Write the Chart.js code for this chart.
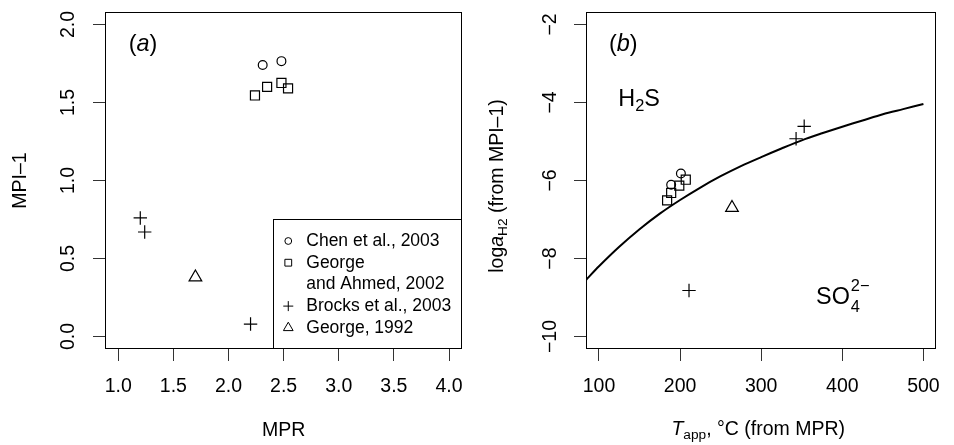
<!DOCTYPE html>
<html lang="en">
<head>
  <meta charset="UTF-8" />
  <title>MPI-1 vs MPR / log aH2 vs Tapp</title>
  <script src="https://cdn.jsdelivr.net/npm/chart.js"></script>
  <style>
    body {
      margin: 0;
      background: #fff;
    }
    .panels {
      display: flex;
      width: 954px;
      height: 445px;
    }
    canvas {
      display: block;
    }
  </style>
</head>
<body>
  <div class="panels">
    <canvas id="panelA" width="477" height="445"></canvas>
    <canvas id="panelB" width="477" height="445"></canvas>
  </div>

  <script>
    // ---- panel (a): MPI-1 against MPR ----
    const chenMPR = [2.31, 2.48];
    const chenMPI = [1.74, 1.765];
    const georgeAhmedMPR = [2.24, 2.35, 2.48, 2.54];
    const georgeAhmedMPI = [1.545, 1.60, 1.625, 1.59];
    const brocksMPR = [1.20, 1.24, 2.20];
    const brocksMPI = [0.76, 0.67, 0.08];
    const george92MPR = [1.70];
    const george92MPI = [0.38];

    const xTicksA = [1.0, 1.5, 2.0, 2.5, 3.0, 3.5, 4.0];
    const xTickLabelsA = ['1.0', '1.5', '2.0', '2.5', '3.0', '3.5', '4.0'];
    const yTicksA = [0, 0.5, 1.0, 1.5, 2.0];
    const yTickLabelsA = ['0.0', '0.5', '1.0', '1.5', '2.0'];

    // ---- panel (b): log aH2 against apparent temperature ----
    const chenT = [189, 201];
    const chenLogH2 = [-6.11, -5.82];
    const georgeAhmedT = [184, 189, 199, 207];
    const georgeAhmedLogH2 = [-6.51, -6.32, -6.13, -5.98];
    const brocksT = [343, 353, 211];
    const brocksLogH2 = [-4.93, -4.61, -8.82];
    const george92T = [264];
    const george92LogH2 = [-6.70];

    // H2S / SO4 boundary line
    const boundaryT = [84, 100, 125, 150, 175, 200, 225, 250, 275, 300, 325, 350, 375, 400, 425, 450, 475, 500];
    const boundaryLogH2 = [-8.55, -8.20, -7.70, -7.25, -6.85, -6.50, -6.18, -5.89, -5.63, -5.40, -5.18, -4.97, -4.79, -4.62, -4.46, -4.30, -4.17, -4.04];

    const xTicksB = [100, 200, 300, 400, 500];
    const xTickLabelsB = ['100', '200', '300', '400', '500'];
    const yTicksB = [-10, -8, -6, -4, -2];
    const yTickLabelsB = ['\u221210', '\u22128', '\u22126', '\u22124', '\u22122'];

    const legendLabels = [
      ['Chen et al., 2003'],
      ['George', 'and Ahmed, 2002'],
      ['Brocks et al., 2003'],
      ['George, 1992']
    ];
    const legendStyles = ['circle', 'rect', 'cross', 'triangle'];

    const FAMILY = '"Liberation Sans", Arial, Helvetica, sans-serif';
    const AXIS_SIZE = 19.5;

    function pts(xs, ys) {
      return xs.map((x, i) => ({ x: x, y: ys[i] }));
    }

    function markers(label, xs, ys, style, radius) {
      return {
        label: label,
        data: pts(xs, ys),
        pointStyle: style,
        pointRadius: radius,
        pointBorderColor: '#000',
        pointBackgroundColor: 'rgba(0,0,0,0)',
        pointBorderWidth: 1.2,
        showLine: false
      };
    }

    function fontStr(size, italic) {
      return (italic ? 'italic ' : '') + size + 'px ' + FAMILY;
    }

    // draws runs of text (normal / italic / sub) centred on cx, cy
    function drawRuns(ctx, runs, cx, cy, angle) {
      ctx.save();
      ctx.translate(cx, cy);
      if (angle) ctx.rotate(angle);
      ctx.fillStyle = '#000';
      ctx.textBaseline = 'middle';
      ctx.textAlign = 'left';
      let total = 0;
      runs.forEach(r => {
        ctx.font = fontStr(r.size, r.italic);
        r.w = ctx.measureText(r.text).width;
        total += r.w;
      });
      let x = -total / 2;
      runs.forEach(r => {
        ctx.font = fontStr(r.size, r.italic);
        ctx.fillText(r.text, x, r.dy || 0);
        x += r.w;
      });
      ctx.restore();
    }

    // R style: y tick labels turned to read upwards
    function yTickLabels(ctx, scale, ticks, labels, x) {
      ticks.forEach((v, i) => {
        drawRuns(ctx, [{ text: labels[i], size: AXIS_SIZE }], x, scale.getPixelForValue(v), -Math.PI / 2);
      });
    }

    function xAxis(min, max, ticks, labels, title) {
      return {
        type: 'linear',
        position: 'bottom',
        min: min,
        max: max,
        afterBuildTicks: s => { s.ticks = ticks.map(v => ({ value: v })); },
        afterFit: s => { s.height = 96; },
        ticks: {
          callback: (v, i) => labels[i],
          color: '#000',
          font: { family: FAMILY, size: AXIS_SIZE },
          padding: 14,
          autoSkip: false,
          maxRotation: 0
        },
        grid: { drawOnChartArea: false, drawTicks: true, tickLength: 12, color: '#333', lineWidth: 1 },
        border: { display: false },
        title: {
          display: !!title,
          text: title,
          color: '#000',
          font: { family: FAMILY, size: AXIS_SIZE },
          padding: { top: 0, bottom: 2.3 }
        }
      };
    }

    function yAxis(min, max, ticks, title, width) {
      return {
        type: 'linear',
        position: 'left',
        min: min,
        max: max,
        afterBuildTicks: s => { s.ticks = ticks.map(v => ({ value: v })); },
        afterFit: s => { s.width = width; },
        ticks: { display: false },
        grid: { drawOnChartArea: false, drawTicks: true, tickLength: 12, color: '#333', lineWidth: 1 },
        border: { display: false },
        title: {
          display: !!title,
          text: title,
          color: '#000',
          font: { family: FAMILY, size: AXIS_SIZE },
          padding: { top: 8.8, bottom: 0 }
        }
      };
    }

    function frame(ctx, a) {
      ctx.save();
      ctx.strokeStyle = '#000';
      ctx.lineWidth = 1;
      ctx.strokeRect(Math.round(a.left) + 0.5, Math.round(a.top) + 0.5,
        Math.round(a.right - a.left) - 1, Math.round(a.bottom - a.top) - 1);
      ctx.restore();
    }

    const baseOptions = {
      responsive: false,
      devicePixelRatio: 1,
      animation: false,
      events: [],
      plugins: { legend: { display: false }, tooltip: { enabled: false } }
    };

    // ---------- panel (a) ----------
    const panelAPlugin = {
      id: 'panelA',
      afterDatasetsDraw(chart) {
        const { ctx, chartArea: a, scales } = chart;
        frame(ctx, a);
        yTickLabels(ctx, scales.y, yTicksA, yTickLabelsA, a.left - 36.5);

        drawRuns(ctx, [
          { text: '(', size: 23.4 },
          { text: 'a', size: 23.4, italic: true },
          { text: ')', size: 23.4 }
        ], scales.x.getPixelForValue(1.225), scales.y.getPixelForValue(1.872));

        // legend box in the lower right corner
        const left = a.right - 189;
        const top = a.bottom - 130;
        ctx.save();
        ctx.strokeStyle = '#000';
        ctx.lineWidth = 1;
        ctx.strokeRect(Math.round(left) + 0.5, Math.round(top) + 0.5,
          Math.round(a.right - left) - 1, Math.round(a.bottom - top) - 1);
        ctx.textBaseline = 'middle';
        ctx.textAlign = 'left';
        const radii = [3.4, 4.8, 5, 5.6];
        let y = top + 22;
        legendLabels.forEach((lines, i) => {
          ctx.strokeStyle = '#000';
          ctx.fillStyle = 'rgba(0,0,0,0)';
          Chart.helpers.drawPoint(ctx, {
            pointStyle: legendStyles[i], radius: radii[i], borderWidth: 1, rotation: 0
          }, left + 15, y);
          ctx.fillStyle = '#000';
          ctx.font = fontStr(17.5, false);
          lines.forEach(line => {
            ctx.fillText(line, left + 33, y);
            y += 21.7;
          });
        });
        ctx.restore();
      }
    };

    new Chart(document.getElementById('panelA'), {
      type: 'scatter',
      data: {
        datasets: [
          markers('Chen et al., 2003', chenMPR, chenMPI, 'circle', 4.4),
          markers('George and Ahmed, 2002', georgeAhmedMPR, georgeAhmedMPI, 'rect', 6.4),
          markers('Brocks et al., 2003', brocksMPR, brocksMPI, 'cross', 6.7),
          markers('George, 1992', george92MPR, george92MPI, 'triangle', 7.3)
        ]
      },
      options: Object.assign({}, baseOptions, {
        layout: { padding: { left: 0, right: 11, top: 12, bottom: 0 } },
        scales: {
          x: xAxis(0.88, 4.12, xTicksA, xTickLabelsA, 'MPR'),
          y: yAxis(-0.08, 2.08, yTicksA, 'MPI\u20131', 105)
        }
      }),
      plugins: [panelAPlugin]
    });

    // ---------- panel (b) ----------
    const panelBPlugin = {
      id: 'panelB',
      afterDatasetsDraw(chart) {
        const { ctx, chartArea: a, scales } = chart;
        const sx = scales.x, sy = scales.y;
        frame(ctx, a);
        yTickLabels(ctx, sy, yTicksB, yTickLabelsB, a.left - 35);

        drawRuns(ctx, [
          { text: '(', size: 23.4 },
          { text: 'b', size: 23.4, italic: true },
          { text: ')', size: 23.4 }
        ], sx.getPixelForValue(130), sy.getPixelForValue(-2.51));

        drawRuns(ctx, [
          { text: 'H', size: 23.4 },
          { text: '2', size: 16.4, dy: 6.5 },
          { text: 'S', size: 23.4 }
        ], sx.getPixelForValue(149.5), sy.getPixelForValue(-3.93));

        // SO4 2- with stacked sub/superscript
        const cx = sx.getPixelForValue(400);
        const cy = sy.getPixelForValue(-9.0);
        ctx.save();
        ctx.fillStyle = '#000';
        ctx.textBaseline = 'middle';
        ctx.textAlign = 'left';
        ctx.font = fontStr(23.4, false);
        const wSO = ctx.measureText('SO').width;
        ctx.font = fontStr(16.4, false);
        const wSup = Math.max(ctx.measureText('4').width, ctx.measureText('2\u2212').width);
        const x0 = cx - (wSO + wSup) / 2;
        ctx.font = fontStr(23.4, false);
        ctx.fillText('SO', x0, cy);
        ctx.font = fontStr(16.4, false);
        ctx.fillText('4', x0 + wSO + 1, cy + 10);
        ctx.fillText('2\u2212', x0 + wSO + 1, cy - 11);
        ctx.restore();

        // axis titles with italic and subscript parts
        drawRuns(ctx, [
          { text: 'log', size: AXIS_SIZE },
          { text: 'a', size: AXIS_SIZE, italic: true },
          { text: 'H2', size: 13.7, dy: 5.5 },
          { text: ' (from MPI\u20131)', size: AXIS_SIZE }
        ], 20.5, 186, -Math.PI / 2);

        drawRuns(ctx, [
          { text: 'T', size: AXIS_SIZE, italic: true },
          { text: 'app', size: 13.7, dy: 5.5 },
          { text: ', \u00B0C (from MPR)', size: AXIS_SIZE }
        ], (a.left + a.right) / 2 - 3, 430);
      }
    };

    new Chart(document.getElementById('panelB'), {
      type: 'scatter',
      data: {
        datasets: [
          {
            label: 'H2S / SO4 boundary',
            data: pts(boundaryT, boundaryLogH2),
            showLine: true,
            borderColor: '#000',
            borderWidth: 2,
            pointRadius: 0,
            tension: 0.3,
            fill: false
          },
          markers('Chen et al., 2003', chenT, chenLogH2, 'circle', 4.4),
          markers('George and Ahmed, 2002', georgeAhmedT, georgeAhmedLogH2, 'rect', 6.4),
          markers('Brocks et al., 2003', brocksT, brocksLogH2, 'cross', 6.7),
          markers('George, 1992', george92T, george92LogH2, 'triangle', 7.3)
        ]
      },
      options: Object.assign({}, baseOptions, {
        layout: { padding: { left: 0, right: 7, top: 12, bottom: 0 } },
        scales: {
          x: xAxis(84, 516, xTicksB, xTickLabelsB, ''),
          y: yAxis(-10.32, -1.68, yTicksB, '', 109)
        }
      }),
      plugins: [panelBPlugin]
    });
  </script>
</body>
</html>
